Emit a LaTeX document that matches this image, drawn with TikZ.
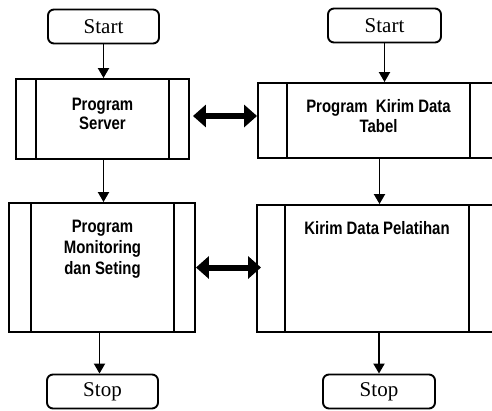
\documentclass[tikz,border=0pt]{standalone}
\usepackage{fontspec}
\setmainfont{Liberation Serif}
\newfontfamily\narrowbold[FakeStretch=0.83]{Liberation Sans Bold}
\usetikzlibrary{arrows.meta}
\begin{document}
\begin{tikzpicture}[x=1pt,y=-1pt,
  line width=1.9pt,
  terminal/.style={draw, rounded corners=6pt, minimum height=34pt, inner sep=0pt,
    font=\fontsize{21}{24}\selectfont},
  procbox/.style={draw, inner sep=0pt},
  label/.style={inner sep=0pt, align=center, anchor=north},
  flow/.style={-{Triangle[length=10pt,width=11pt]}},
  link/.style={line width=6pt, {Triangle[length=13pt,width=22pt]}-{Triangle[length=13pt,width=22pt]}}]
\useasboundingbox (0,0) rectangle (492,410);
\clip (0,0) rectangle (492,410);

% terminals
\node[terminal, minimum width=111pt] (startL) at (103.5,26.5) {Start};
\node[terminal, minimum width=113pt] (startR) at (384.5,25.5) {Start};
\node[terminal, minimum width=111pt] (stopL) at (102.5,391.5) {Stop};
\node[terminal, minimum width=112pt] (stopR) at (379,391.5) {Stop};

% predefined process boxes
\node[procbox, minimum width=173pt, minimum height=80pt] (srv) at (102.5,119) {};
\node[procbox, minimum width=241pt, minimum height=75pt] (tab) at (378.5,120.5) {};
\node[procbox, minimum width=186pt, minimum height=129pt] (mon) at (102,267.5) {};
\node[procbox, minimum width=240pt, minimum height=127pt] (lat) at (377,268.5) {};

% side bars of the process boxes
\foreach \b/\l/\r in {srv/21/21, tab/30/30, mon/23/22, lat/29/29}{
  \draw ([xshift=\l pt]\b.north west) -- ([xshift=\l pt]\b.south west);
  \draw ([xshift=-\r pt]\b.north east) -- ([xshift=-\r pt]\b.south east);
}

% box labels
\begin{scope}[font=\narrowbold\fontsize{18}{19}\selectfont]
\node[label] (srvT) at (102.5,97) {Program\\Server};
\end{scope}
\begin{scope}[font=\narrowbold\fontsize{18}{20}\selectfont]
\node[label] (tabT) at (378.5,99) {Program\ \ Kirim Data\\Tabel};
\end{scope}
\begin{scope}[font=\narrowbold\fontsize{18}{21}\selectfont]
\node[label] (monT) at (102.5,219) {Program\\Monitoring\\dan Seting};
\node[label] (latT) at (377,221) {Kirim Data Pelatihan};
\end{scope}

% flow arrows
\draw[flow] (startL.south) -- (startL.south |- srv.north);
\draw[flow] (startL.south |- srv.south) -- (startL.south |- mon.north);
\draw[flow] ([xshift=-3pt]stopL.north |- mon.south) -- ([xshift=-3pt]stopL.north);
\draw[flow] (startR.south) -- (startR.south |- tab.north);
\draw[flow] ([xshift=-5pt]startR.south |- tab.south) -- ([xshift=-5pt]startR.south |- lat.north);
\draw[flow] (stopR.north |- lat.south) -- (stopR.north);

% data exchange between the two programs
\coordinate (linkA) at ([shift={(3pt,3pt)}]srv.east);
\draw[link] (linkA) -- (tab.west |- linkA);
\draw[link] (mon.east) -- ([xshift=5pt]lat.west |- mon.east);
\end{tikzpicture}
\end{document}
